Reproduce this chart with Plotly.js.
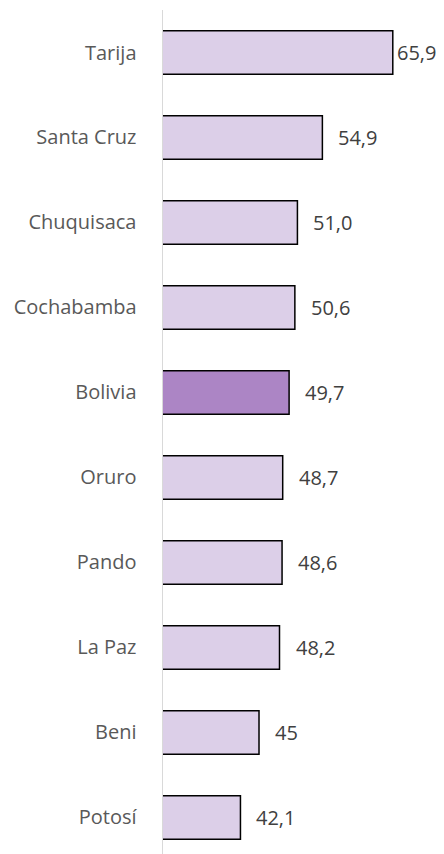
<!DOCTYPE html>
<html>
<head>
<meta charset="utf-8">
<script src="https://cdn.plot.ly/plotly-3.0.1.min.js"></script>
<style>html,body{margin:0;padding:0;background:#fff;}#chart{width:444px;height:854px;}</style>
</head>
<body>
<div id="chart"></div>
<script>
// Data (bottom to top)
const categories = ["Potosí", "Beni", "La Paz", "Pando", "Oruro", "Bolivia", "Cochabamba", "Chuquisaca", "Santa Cruz", "Tarija"];
const values = [42.1, 45, 48.2, 48.6, 48.7, 49.7, 50.6, 51.0, 54.9, 65.9];
const valueLabels = ["42,1", "45", "48,2", "48,6", "48,7", "49,7", "50,6", "51,0", "54,9", "65,9"];
const highlight = "Bolivia";

const colors = categories.map(c => c === highlight ? "#ac85c5" : "#dccfe8");
const maxVal = Math.max(...values);

const trace = {
  type: "bar",
  orientation: "h",
  y: categories,
  x: values,
  base: 0,
  marker: {color: colors, line: {color: "#000000", width: 1.5}},
  width: 0.51,
  hoverinfo: "none"
};

const annotations = values.map((v, i) => ({
  x: v, y: categories[i], xref: "x", yref: "y",
  text: valueLabels[i], showarrow: false, xanchor: "left", yanchor: "middle",
  xshift: v === maxVal ? 2 : 14,
  font: {family: "Open Sans", size: 20, color: "#404040"}
}));

const layout = {
  width: 444, height: 854,
  margin: {l: 163, r: 0, t: 10, b: 0},
  paper_bgcolor: "#ffffff", plot_bgcolor: "#ffffff",
  showlegend: false,
  xaxis: {range: [30, 73.9], showgrid: false, zeroline: false, showticklabels: false, ticks: "", showline: false, fixedrange: true},
  yaxis: {type: "category", categoryorder: "array", categoryarray: categories, range: [-0.43, 9.5],
          showgrid: false, zeroline: false, showline: true, linecolor: "#d9d9d9", linewidth: 1.5,
          ticks: "", ticklabelstandoff: 21,
          tickfont: {family: "Open Sans", size: 20, color: "#595959"}},
  annotations: annotations
};

Plotly.newPlot("chart", [trace], layout, {displayModeBar: false, staticPlot: true});
</script>
</body>
</html>
